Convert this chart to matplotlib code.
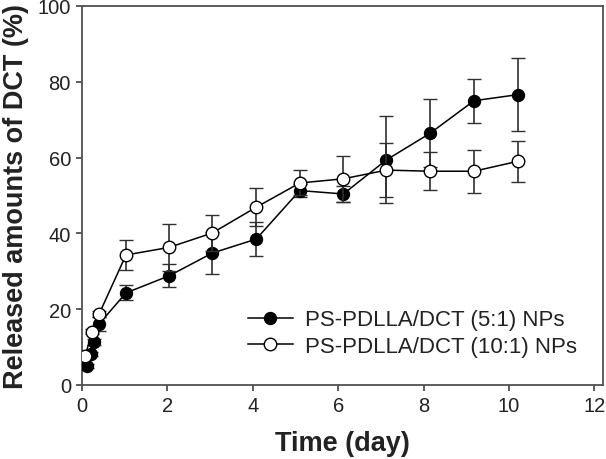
import matplotlib
matplotlib.use("Agg")
import matplotlib.pyplot as plt

plt.rcParams['font.family'] = ['Liberation Sans', 'DejaVu Sans']

# Data
t_51 = [0.12, 0.20, 0.27, 0.40, 1.03, 2.04, 3.05, 4.08, 5.10, 6.12, 7.13, 8.15, 9.18, 10.20]
y_51 = [5.1, 8.2, 11.3, 16.1, 24.3, 28.8, 34.8, 38.5, 51.3, 50.4, 59.4, 66.4, 75.0, 76.6]
e_51 = [0.5, 0.6, 0.8, 1.8, 2.0, 3.0, 5.5, 4.5, 1.8, 2.0, 11.5, 9.0, 5.8, 9.7]

t_101 = [0.08, 0.23, 0.40, 1.03, 2.04, 3.05, 4.08, 5.10, 6.12, 7.13, 8.15, 9.18, 10.20]
y_101 = [7.7, 14.1, 18.7, 34.3, 36.3, 40.1, 46.9, 53.3, 54.4, 56.7, 56.4, 56.4, 59.0]
e_101 = [0.5, 0.6, 0.8, 4.0, 6.2, 4.8, 5.0, 3.3, 6.0, 7.1, 5.0, 5.7, 5.4]

labels = ['PS-PDLLA/DCT (5:1) NPs', 'PS-PDLLA/DCT (10:1) NPs']
xticks = [0, 2, 4, 6, 8, 10, 12]
yticks = [0, 20, 40, 60, 80, 100]

fig = plt.figure(figsize=(6.06, 4.60), dpi=100)
ax = fig.add_axes([0.1353, 0.1609, 0.8597, 0.8239])

ecol = '#303030'
ax.errorbar(t_51, y_51, yerr=e_51, fmt='-o', color='black', lw=1.1,
            ms=8.6, mfc='black', mec='black', mew=1.0,
            ecolor=ecol, elinewidth=1.2, capsize=4.7, capthick=1.2,
            label=labels[0], zorder=3)
ax.errorbar(t_101, y_101, yerr=e_101, fmt='-o', color='black', lw=1.1,
            ms=9.0, mfc='white', mec='black', mew=1.0,
            ecolor=ecol, elinewidth=1.2, capsize=4.7, capthick=1.2,
            label=labels[1], zorder=4)

ax.set_xlim(0, 12.2)
ax.set_ylim(0, 100)
ax.set_xticks(xticks)
ax.set_yticks(yticks)
ax.tick_params(direction='out', length=4, width=1.2, color='#404040',
               labelsize=14.5, labelcolor='#222222', pad=4)
for s in ax.spines.values():
    s.set_color('#505050')
    s.set_linewidth(1.3)

ax.set_xlabel('Time (day)', fontsize=19.5, fontweight='bold', color='#222222', labelpad=11)
ax.set_ylabel('Released amounts of DCT (%)', fontsize=19.5, fontweight='bold', color='#222222', labelpad=6)

handles, labs = ax.get_legend_handles_labels()
hs = [h[0] for h in handles]
leg = ax.legend(hs, labs, loc='center left', bbox_to_anchor=(0.319, 0.137),
                frameon=False, fontsize=16, handlelength=2.0, handletextpad=0.55,
                labelspacing=0.25, borderpad=0.0, borderaxespad=0.0)
for t in leg.get_texts():
    t.set_color('#222222')

fig.savefig('out.png', dpi=100)
